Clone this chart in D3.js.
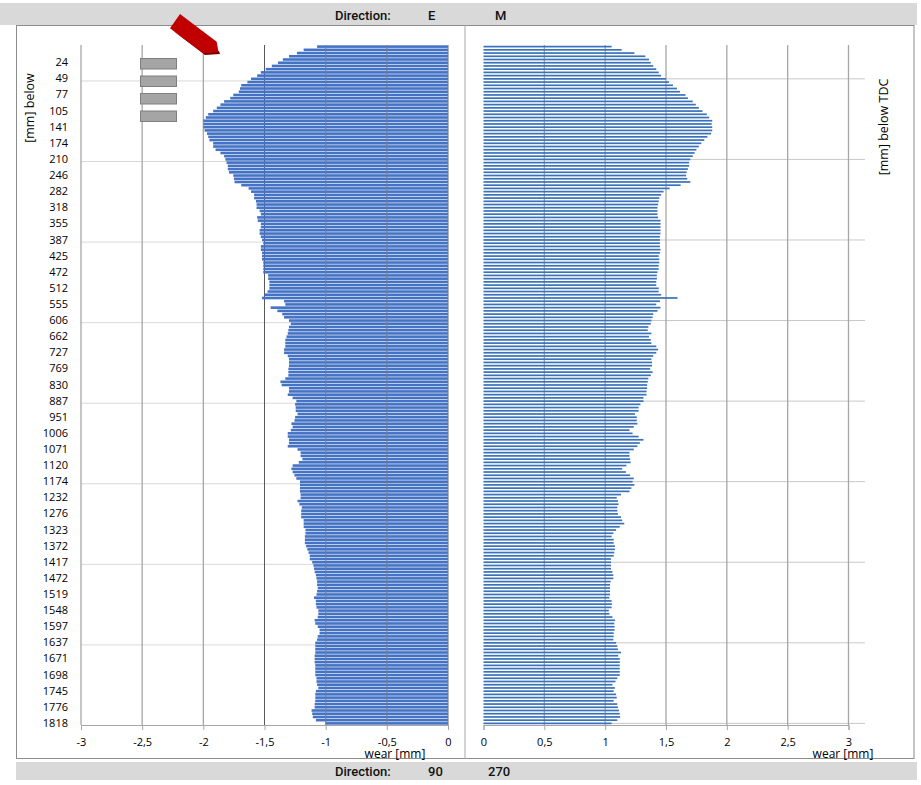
<!DOCTYPE html>
<html><head><meta charset="utf-8">
<script src="https://cdn.jsdelivr.net/npm/d3@7"></script>
<style>
body{margin:0;background:#fff}
svg{display:block}
</style>
</head><body>
<svg id="c" width="921" height="785"></svg>
<script>
// ---------- data ----------
const tickLabels = ["24","49","77","105","141","174","210","246","282","318","355","387","425","472","512","555","606","662","727","769","830","887","951","1006","1071","1120","1174","1232","1276","1323","1372","1417","1472","1519","1548","1597","1637","1671","1698","1745","1776","1818"];

// direction 90 (left panel, negative wear), top to bottom
const wear90 = [
-1.07,-1.18,-1.235,-1.30,-1.35,-1.39,-1.44,-1.49,-1.53,-1.56,
-1.61,-1.64,-1.69,-1.70,-1.71,-1.755,-1.78,-1.83,-1.86,-1.89,
-1.92,-1.96,-1.98,-2.00,-2.00,-2.00,-1.99,-1.97,-1.96,-1.95,
-1.92,-1.92,-1.90,-1.86,-1.83,-1.82,-1.81,-1.80,-1.80,-1.79,
-1.755,-1.75,-1.745,-1.69,-1.63,-1.61,-1.585,-1.585,-1.57,-1.565,
-1.565,-1.54,-1.53,-1.56,-1.555,-1.53,-1.53,-1.54,-1.54,-1.53,
-1.52,-1.51,-1.53,-1.53,-1.52,-1.52,-1.52,-1.51,-1.51,-1.51,
-1.51,-1.47,-1.47,-1.46,-1.46,-1.46,-1.475,-1.50,-1.52,-1.34,
-1.33,-1.45,-1.395,-1.355,-1.34,-1.30,-1.285,-1.30,-1.305,-1.31,
-1.32,-1.33,-1.33,-1.33,-1.34,-1.34,-1.31,-1.30,-1.30,-1.30,
-1.305,-1.305,-1.305,-1.33,-1.37,-1.36,-1.30,-1.30,-1.31,-1.27,
-1.24,-1.25,-1.245,-1.245,-1.23,-1.25,-1.255,-1.28,-1.27,-1.285,
-1.31,-1.31,-1.30,-1.30,-1.31,-1.23,-1.205,-1.205,-1.19,-1.22,
-1.27,-1.28,-1.27,-1.255,-1.24,-1.21,-1.21,-1.21,-1.21,-1.205,
-1.205,-1.23,-1.215,-1.195,-1.20,-1.20,-1.20,-1.18,-1.18,-1.18,
-1.165,-1.165,-1.17,-1.17,-1.17,-1.16,-1.15,-1.14,-1.13,-1.13,
-1.11,-1.10,-1.095,-1.09,-1.08,-1.075,-1.07,-1.07,-1.065,-1.07,
-1.075,-1.095,-1.08,-1.08,-1.075,-1.06,-1.06,-1.065,-1.09,-1.085,
-1.065,-1.05,-1.05,-1.065,-1.07,-1.085,-1.085,-1.085,-1.085,-1.09,
-1.09,-1.09,-1.085,-1.085,-1.085,-1.085,-1.075,-1.075,-1.07,-1.06,
-1.08,-1.085,-1.085,-1.085,-1.09,-1.09,-1.115,-1.11,-1.105,-1.08,
-1.00
];

// direction 270 (right panel), top to bottom
const wear270 = [
1.053,1.135,1.24,1.33,1.36,1.375,1.395,1.42,1.44,1.46,
1.50,1.525,1.557,1.59,1.615,1.66,1.68,1.72,1.745,1.77,
1.80,1.835,1.855,1.88,1.875,1.88,1.88,1.87,1.84,1.815,
1.79,1.77,1.75,1.735,1.72,1.70,1.69,1.69,1.68,1.67,
1.665,1.675,1.70,1.62,1.53,1.48,1.46,1.445,1.44,1.435,
1.43,1.43,1.43,1.435,1.455,1.455,1.455,1.455,1.455,1.45,
1.45,1.45,1.45,1.455,1.45,1.44,1.445,1.445,1.44,1.44,
1.43,1.425,1.425,1.42,1.42,1.44,1.44,1.46,1.595,1.45,
1.42,1.455,1.43,1.395,1.39,1.38,1.375,1.355,1.35,1.38,
1.36,1.375,1.38,1.42,1.435,1.42,1.395,1.38,1.385,1.385,
1.37,1.39,1.375,1.355,1.35,1.345,1.345,1.34,1.34,1.315,
1.315,1.29,1.275,1.275,1.245,1.26,1.26,1.265,1.235,1.20,
1.225,1.275,1.315,1.285,1.265,1.235,1.20,1.20,1.205,1.21,
1.175,1.14,1.17,1.205,1.235,1.225,1.24,1.215,1.20,1.13,
1.095,1.105,1.11,1.10,1.10,1.105,1.13,1.14,1.157,1.12,
1.09,1.067,1.053,1.07,1.07,1.08,1.08,1.075,1.07,1.048,
1.048,1.048,1.048,1.06,1.067,1.067,1.045,1.04,1.04,1.04,
1.04,1.035,1.053,1.055,1.053,1.03,1.035,1.06,1.08,1.075,
1.077,1.077,1.07,1.07,1.067,1.09,1.10,1.105,1.13,1.107,
1.12,1.12,1.12,1.12,1.12,1.12,1.10,1.085,1.06,1.08,
1.07,1.09,1.095,1.07,1.10,1.105,1.113,1.12,1.123,1.10,
1.053
];

const xTicksLeft = [-3,-2.5,-2,-1.5,-1,-0.5,0];
const xTicksRight = [0,0.5,1,1.5,2,2.5,3];
const headerTop = ["Direction:", "E", "M"];
const headerBottom = ["Direction:", "90", "270"];
const axisTitleX = "wear [mm]";
const axisTitleYLeft = "[mm] below";
const axisTitleYRight = "[mm] below TDC";

// ---------- chart ----------
const svg = d3.select("#c");
const FONT = "'Open Sans', sans-serif";
const HFONT = "Roboto, sans-serif";
const n = wear90.length;
const idx = d3.range(n);
const y = d3.scaleBand().domain(idx).range([45, 725]);
const bw = y.bandwidth();
const xL = d3.scaleLinear().domain([-3, 0]).range([81, 448]);
const xR = d3.scaleLinear().domain([0, 3]).range([483.5, 848.5]);
const labelIdx = tickLabels.map((d, k) => n - 1 - (tickLabels.length - 1 - k) * 5);
const gridIdx = labelIdx.filter((d, k) => k % 5 === 1);
const fmt = d => String(d).replace(".", ",");

// header / footer bands
svg.append("rect").attr("x", 0).attr("y", 3).attr("width", 917).attr("height", 22).attr("fill", "#d9d9d9");
svg.append("rect").attr("x", 16).attr("y", 762).attr("width", 901).attr("height", 18).attr("fill", "#d9d9d9");

// frames
svg.append("rect").attr("x", 16.5).attr("y", 25.5).attr("width", 897.5).attr("height", 733)
  .attr("fill", "none").attr("stroke", "#8c8c8c");
svg.append("line").attr("x1", 465).attr("x2", 465).attr("y1", 25).attr("y2", 759).attr("stroke", "#a6a6a6");

// header texts
const hx = [335, 428, 495];
svg.selectAll("text.ht").data(headerTop).join("text").attr("class", "ht")
  .attr("x", (d, i) => hx[i]).attr("y", 19.5).text(d => d)
  .attr("font-family", HFONT).attr("font-weight", 500).attr("font-size", 13).attr("fill", "#111");
const fx = [335, 428, 488];
svg.selectAll("text.ft").data(headerBottom).join("text").attr("class", "ft")
  .attr("x", (d, i) => fx[i]).attr("y", 776).text(d => d)
  .attr("font-family", HFONT).attr("font-weight", 500).attr("font-size", 13).attr("fill", "#111");

// ---- left panel ----
const gL = svg.append("g");
gL.selectAll("line.hg").data(gridIdx).join("line").attr("class", "hg")
  .attr("x1", xL(-3)).attr("x2", xL(0))
  .attr("y1", d => y(d) + bw + 0.5).attr("y2", d => y(d) + bw + 0.5)
  .attr("stroke", "#d9d9d9").attr("stroke-width", 1);
gL.selectAll("line.vg").data(xTicksLeft).join("line").attr("class", "vg")
  .attr("x1", d => xL(d)).attr("x2", d => xL(d)).attr("y1", 45).attr("y2", 725)
  .attr("stroke", d => d === -1.5 ? "#595959" : "#a6a6a6").attr("stroke-width", d => d === -1.5 ? 1 : 1.3);
const hL = 2.6;
gL.selectAll("rect.bar").data(wear90).join("rect").attr("class", "bar")
  .attr("x", d => xL(d)).attr("width", d => xL(0) - xL(d))
  .attr("y", (d, i) => y(i) + (bw - hL) / 2).attr("height", hL)
  .attr("fill", "#4472c4");
gL.selectAll("line.vg2").data(xTicksLeft.filter(d => d > -1.5)).join("line").attr("class", "vg2")
  .attr("x1", d => xL(d)).attr("x2", d => xL(d)).attr("y1", 45).attr("y2", 725)
  .attr("stroke", "#8a8a8a").attr("stroke-opacity", 0.45).attr("stroke-width", 1.3);
const axL = gL.append("g").attr("transform", "translate(0,725)")
  .call(d3.axisBottom(xL).tickValues(xTicksLeft).tickFormat(fmt).tickSize(5).tickPadding(8));
axL.select(".domain").attr("stroke", "#a6a6a6");
axL.selectAll(".tick line").attr("stroke", "#a6a6a6");
axL.selectAll("text").attr("font-family", FONT).attr("font-size", 11).attr("fill", "#000");
const ayL = gL.append("g").attr("transform", "translate(81,0)")
  .call(d3.axisLeft(y).tickValues(labelIdx).tickFormat(d => tickLabels[labelIdx.indexOf(d)]).tickSize(0).tickPadding(13));
ayL.select(".domain").remove();
ayL.selectAll("text").attr("font-family", FONT).attr("font-size", 11).attr("fill", "#000");
gL.append("text").attr("x", 395).attr("y", 757.5).attr("text-anchor", "middle")
  .attr("font-family", FONT).attr("font-size", 12).text(axisTitleX);
gL.append("text").attr("transform", "translate(34,108) rotate(-90)").attr("text-anchor", "middle")
  .attr("font-family", FONT).attr("font-size", 12.5).text(axisTitleYLeft);

// legend-like gray boxes
const boxY = [58.5, 76, 93.5, 111];
gL.selectAll("rect.box").data(boxY).join("rect").attr("class", "box")
  .attr("x", 140.5).attr("y", d => d).attr("width", 36).attr("height", 10.5)
  .attr("fill", "#a5a5a5").attr("stroke", "#7f7f7f").attr("stroke-width", 1);

// red arrow
svg.append("polygon").attr("points", "172,30 205,55 220,54 219,51 206,52")
  .attr("fill", "#7a0000");
svg.append("polygon").attr("points", "180,14 216.7,41.7 218.5,52 210,53 203.3,53 170,28.3")
  .attr("fill", "#c00000");

// ---- right panel ----
const gR = svg.append("g");
gR.selectAll("line.hg").data(gridIdx).join("line").attr("class", "hg")
  .attr("x1", xR(0)).attr("x2", 865)
  .attr("y1", d => y(d) + bw / 2).attr("y2", d => y(d) + bw / 2)
  .attr("stroke", "#c8c8c8").attr("stroke-width", 1);
gR.selectAll("line.vg").data(xTicksRight).join("line").attr("class", "vg")
  .attr("x1", d => xR(d)).attr("x2", d => xR(d)).attr("y1", d => d === 0 ? 725 : 45).attr("y2", 725)
  .attr("stroke", "#a6a6a6").attr("stroke-width", 1.3);
const hR = 1.7;
gR.selectAll("rect.bar").data(wear270).join("rect").attr("class", "bar")
  .attr("x", xR(0)).attr("width", d => xR(d) - xR(0))
  .attr("y", (d, i) => y(i) + bw / 2 - hR / 2).attr("height", hR)
  .attr("fill", "#3a72ba");
const axR = gR.append("g").attr("transform", "translate(0,725)")
  .call(d3.axisBottom(xR).tickValues(xTicksRight).tickFormat(fmt).tickSize(5).tickPadding(8));
axR.select(".domain").attr("stroke", "#a6a6a6");
axR.selectAll(".tick line").attr("stroke", "#a6a6a6");
axR.selectAll("text").attr("font-family", FONT).attr("font-size", 11).attr("fill", "#000");
gR.append("text").attr("x", 843).attr("y", 757.5).attr("text-anchor", "middle")
  .attr("font-family", FONT).attr("font-size", 12).text(axisTitleX);
gR.append("text").attr("transform", "translate(888,127) rotate(-90)").attr("text-anchor", "middle")
  .attr("font-family", FONT).attr("font-size", 12.5).text(axisTitleYRight);
</script>
</body></html>
